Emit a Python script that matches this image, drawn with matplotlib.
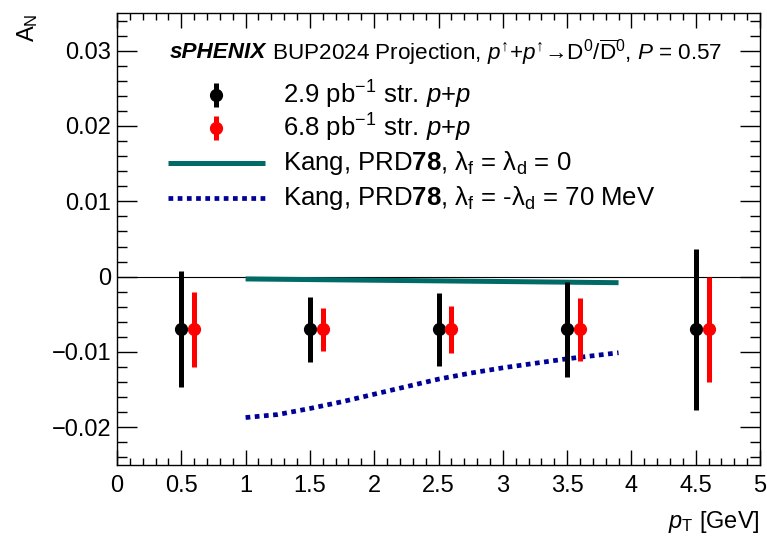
import matplotlib
matplotlib.use("Agg")
import matplotlib.pyplot as plt
from matplotlib.ticker import FixedLocator, MultipleLocator, FixedFormatter

plt.rcParams['font.family'] = ['Liberation Sans', 'DejaVu Sans']
plt.rcParams['mathtext.fontset'] = 'custom'
plt.rcParams['mathtext.rm'] = 'Liberation Sans'
plt.rcParams['mathtext.it'] = 'Liberation Sans:italic'
plt.rcParams['mathtext.bf'] = 'Liberation Sans:bold'

# ---- data ----
pt_black = [0.5, 1.5, 2.5, 3.5, 4.5]
pt_red = [0.6, 1.6, 2.6, 3.6, 4.6]
an_black = [-0.007, -0.007, -0.007, -0.007, -0.007]
an_red = [-0.007, -0.007, -0.007, -0.007, -0.007]
err_black = [0.0077, 0.0043, 0.0048, 0.0063, 0.0107]
err_red = [0.0050, 0.0029, 0.0031, 0.0042, 0.0070]

kang0_pt = [1.0, 3.9]
kang0_an = [-0.0003, -0.0008]

kang70_pt = [1.0, 1.25, 1.5, 1.75, 2.0, 2.25, 2.5, 2.75, 3.0, 3.25, 3.5, 3.75, 3.9]
kang70_an = [-0.0187, -0.0183, -0.0175, -0.0166, -0.0156, -0.0146, -0.0136,
             -0.0128, -0.0121, -0.0115, -0.0109, -0.0104, -0.0101]

xticks = [0, 0.5, 1, 1.5, 2, 2.5, 3, 3.5, 4, 4.5, 5]
xticklabels = ["0", "0.5", "1", "1.5", "2", "2.5", "3", "3.5", "4", "4.5", "5"]
yticks = [-0.02, -0.01, 0, 0.01, 0.02, 0.03]
yticklabels = ["\u22120.02", "\u22120.01", "0", "0.01", "0.02", "0.03"]

labels = [r"2.9 pb$^{-1}$ str. $p$+$p$",
          r"6.8 pb$^{-1}$ str. $p$+$p$",
          r"Kang, PRD$\mathbf{78}$, λ$_{\mathrm{f}}$ = λ$_{\mathrm{d}}$ = 0",
          r"Kang, PRD$\mathbf{78}$, λ$_{\mathrm{f}}$ = -λ$_{\mathrm{d}}$ = 70 MeV"]

BLACK = "black"
RED = "#ff0000"
TEAL = "#006a66"
NAVY = "#000099"

fig = plt.figure(figsize=(7.67, 5.43), dpi=100)
W, H = 767, 543
L, R, T, B = 117, 760, 13, 465
ax = fig.add_axes([L / W, 1 - B / H, (R - L) / W, (B - T) / H])
ax.set_xlim(0, 5)
ax.set_ylim(-0.025, 0.035)

ax.axhline(0, color="black", lw=0.8, zorder=1)

ax.plot(kang0_pt, kang0_an, color=TEAL, lw=3.6, solid_capstyle='butt', zorder=2)
ax.plot(kang70_pt, kang70_an, color=NAVY, lw=3.4, dashes=(1.0, 0.95),
        dash_capstyle='butt', zorder=2)

ax.errorbar(pt_black, an_black, yerr=err_black, fmt='o', color=BLACK, ms=8.5,
            elinewidth=3.6, capsize=0, zorder=3)
ax.errorbar(pt_red, an_red, yerr=err_red, fmt='o', color=RED, ms=8.5,
            elinewidth=3.6, capsize=0, zorder=3)

# ticks
ax.xaxis.set_major_locator(FixedLocator(xticks))
ax.xaxis.set_major_formatter(FixedFormatter(xticklabels))
ax.xaxis.set_minor_locator(MultipleLocator(0.1))
ax.yaxis.set_major_locator(FixedLocator(yticks))
ax.yaxis.set_major_formatter(FixedFormatter(yticklabels))
ax.yaxis.set_minor_locator(MultipleLocator(0.002))
ax.tick_params(axis='both', which='both', direction='in', top=True, right=True,
               color='black', width=1.0, labelsize=17)
ax.tick_params(axis='y', which='major', length=14.4, pad=4)
ax.tick_params(axis='y', which='minor', length=7.2)
ax.tick_params(axis='x', which='major', length=10.5, pad=7)
ax.tick_params(axis='x', which='minor', length=5)
for s in ax.spines.values():
    s.set_linewidth(1.0)

# axis titles
fig.text(28 / W, 1 - 13 / H, r"A$_{\mathrm{N}}$", rotation=90, ha='center', va='top',
         fontsize=17)
fig.text(760 / W, 1 - 522 / H, r"$p_{\mathrm{T}}$ [GeV]", ha='right', va='center',
         fontsize=17)

# legend / header
def axfx(px):
    return (px - L) / (R - L)

def axfy(py):
    return (B - py) / (B - T)

t1 = ax.text(axfx(170), axfy(52), "sPHENIX", transform=ax.transAxes, fontsize=16.2,
             fontweight='bold', fontstyle='italic', ha='left', va='center')
ax.annotate(r" BUP2024 Projection, $p^{↑}$+$p^{↑}$→D$^{0}$/$\overline{\mathrm{D}}^{0}$, $P$ = 0.57",
            xy=(1, 0.5), xycoords=t1, ha='left', va='center', fontsize=16.2)

rows_y = [95, 128, 163, 198]
mx = axfx(216)
for i, c in enumerate([BLACK, RED]):
    y = axfy(rows_y[i])
    ax.plot([mx, mx], [y - 12 / (B - T), y + 12 / (B - T)], color=c, lw=3.6,
            transform=ax.transAxes, solid_capstyle='butt', clip_on=False)
    ax.plot([mx], [y], 'o', color=c, ms=8.5, transform=ax.transAxes, clip_on=False)
y3 = axfy(rows_y[2])
ax.plot([axfx(168), axfx(265)], [y3, y3], color=TEAL, lw=3.6, transform=ax.transAxes,
        solid_capstyle='butt')
y4 = axfy(rows_y[3])
ax.plot([axfx(168), axfx(265)], [y4, y4], color=NAVY, lw=3.4, dashes=(1.0, 0.95),
        dash_capstyle='butt', transform=ax.transAxes)
for i, lab in enumerate(labels):
    ax.text(axfx(283), axfy(rows_y[i]), lab, transform=ax.transAxes, fontsize=18.5,
            ha='left', va='center')

fig.savefig("out.png", dpi=100)
